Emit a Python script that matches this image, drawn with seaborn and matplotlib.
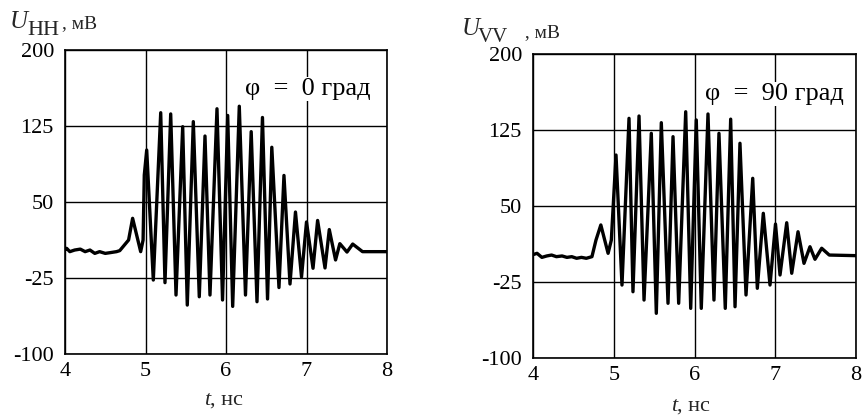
import numpy as np
import pandas as pd
import matplotlib
matplotlib.use("Agg")
import matplotlib.pyplot as plt
import seaborn as sns

# ---- data (t in ns, U in mV) ----
t_hh = [4.00, 4.02, 4.06, 4.12, 4.19, 4.25, 4.31, 4.37, 4.43, 4.50, 4.56, 4.64, 4.68,
        4.79, 4.84, 4.94, 4.97, 4.985, 5.015, 5.097, 5.189, 5.242, 5.313, 5.379, 5.462,
        5.519, 5.594, 5.668, 5.739, 5.801, 5.888, 5.957, 6.021, 6.083, 6.165, 6.242,
        6.313, 6.385, 6.453, 6.516, 6.569, 6.658, 6.720, 6.795, 6.863, 6.938, 7.000,
        7.081, 7.138, 7.230, 7.283, 7.361, 7.414, 7.503, 7.574, 7.696, 8.00]
u_hh = [3.0, 4.3, 1.0, 2.6, 3.5, 1.0, 2.6, -0.7, 1.0, -0.7, 0.0, 1.0, 2.0,
        12.5, 33.9, 1.0, 12.5, 76.6, 101.3, -27.0, 138.1, -29.6, 136.9, -41.8, 124.3,
        -51.7, 129.3, -43.5, 115.1, -41.8, 142.0, -46.7, 135.4, -53.0, 144.5, -41.8,
        119.4, -48.4, 133.4, -45.7, 104.0, -34.4, 76.2, -30.9, 40.1, -24.0, 30.3,
        -15.4, 31.8, -15.1, 22.8, -7.2, 8.9, 0.6, 8.5, 1.0, 1.0]

t_vv = [4.00, 4.05, 4.11, 4.17, 4.23, 4.29, 4.36, 4.42, 4.48, 4.54, 4.60, 4.66, 4.73,
        4.78, 4.84, 4.93, 4.97, 5.028, 5.102, 5.189, 5.238, 5.313, 5.375, 5.465, 5.527,
        5.589, 5.672, 5.734, 5.804, 5.891, 5.953, 6.022, 6.084, 6.167, 6.241, 6.303,
        6.381, 6.448, 6.502, 6.563, 6.638, 6.721, 6.778, 6.852, 6.935, 7.003, 7.059,
        7.142, 7.204, 7.282, 7.356, 7.430, 7.492, 7.575, 7.669, 8.00]
u_vv = [2.0, 3.3, -0.7, 0.7, 1.6, 0.0, 0.7, -0.7, 0.0, -1.6, -0.7, -1.6, 0.0,
        16.4, 31.3, 3.3, 16.4, 100.3, -28.0, 136.5, -34.6, 138.8, -42.8, 121.7, -55.9,
        132.2, -46.0, 118.4, -46.0, 143.0, -51.0, 134.9, -51.0, 140.8, -42.8, 121.7,
        -51.0, 135.7, -49.4, 111.9, -37.8, 77.3, -31.2, 42.8, -28.0, 32.2, -18.1,
        33.5, -16.4, 24.6, -6.6, 9.8, -2.6, 8.3, 1.6, 1.0]

x_ticks = [4, 5, 6, 7, 8]
y_ticks = [-100, -25, 50, 125, 200]
y_tick_labels = ["-100", "-25", "50", "125", "200"]
labels_phi = ["φ  =  0 град", "φ  =  90 град"]

sns.set_style("white")
plt.rcParams["font.family"] = ["Liberation Serif", "DejaVu Serif"]
plt.rcParams["axes.unicode_minus"] = False

W, H = 863, 418
fig = plt.figure(figsize=(W / 100, H / 100), dpi=100)

ax1 = fig.add_axes([65 / W, 1 - 354 / H, 322 / W, 304 / H])
ax2 = fig.add_axes([533 / W, 1 - 358 / H, 323 / W, 304 / H])

df1 = pd.DataFrame({"t": t_hh, "u": u_hh})
df2 = pd.DataFrame({"t": t_vv, "u": u_vv})

phi_pos = [(245, 95), (705, 100)]

for ax, df, lab, (px, py) in zip([ax1, ax2], [df1, df2], labels_phi, phi_pos):
    sns.lineplot(data=df, x="t", y="u", ax=ax, color="black", linewidth=2.4,
                 sort=False, estimator=None, zorder=3)
    ax.set_xlim(4, 8)
    ax.set_ylim(-100, 200)
    ax.set_xticks(x_ticks)
    ax.set_yticks(y_ticks)
    ax.set_yticklabels(y_tick_labels)
    ax.set_xticklabels([str(v) for v in x_ticks])
    ax.tick_params(axis="both", length=0, labelsize=16, colors="black")
    ax.tick_params(axis="x", pad=6)
    ax.tick_params(axis="y", pad=8)
    ax.grid(True, color="black", linewidth=1.0)
    ax.set_axisbelow(True)
    for s in ax.spines.values():
        s.set_color("black")
        s.set_linewidth(1.2)
    ax.set_xlabel("")
    ax.set_ylabel("")
    fig.text(px / W, 1 - py / H, lab, ha="left", va="baseline",
             fontsize=19, color="black", zorder=5,
             bbox=dict(facecolor="white", edgecolor="none", pad=0.5))

# axis titles
fig.text(10 / W, 1 - 28 / H, "U", fontsize=18, style="italic", ha="left", va="baseline")
fig.text(27 / W, 1 - 35 / H, "HH", fontsize=16, ha="left", va="baseline")
fig.text(62 / W, 1 - 28 / H, ", мВ", fontsize=14, ha="left", va="baseline")

fig.text(462 / W, 1 - 35 / H, "U", fontsize=18, style="italic", ha="left", va="baseline")
fig.text(478 / W, 1 - 42 / H, "VV", fontsize=15, ha="left", va="baseline")
fig.text(520 / W, 1 - 37 / H, " , мВ", fontsize=14, ha="left", va="baseline")

for lx, by in [(204, 405), (671, 411)]:
    fig.text(lx / W, 1 - by / H, "t", fontsize=16, style="italic",
             ha="left", va="baseline")
    fig.text((lx + 6) / W, 1 - by / H, ", нс", fontsize=16,
             ha="left", va="baseline")

fig.savefig("out.png", dpi=100, facecolor="white")
